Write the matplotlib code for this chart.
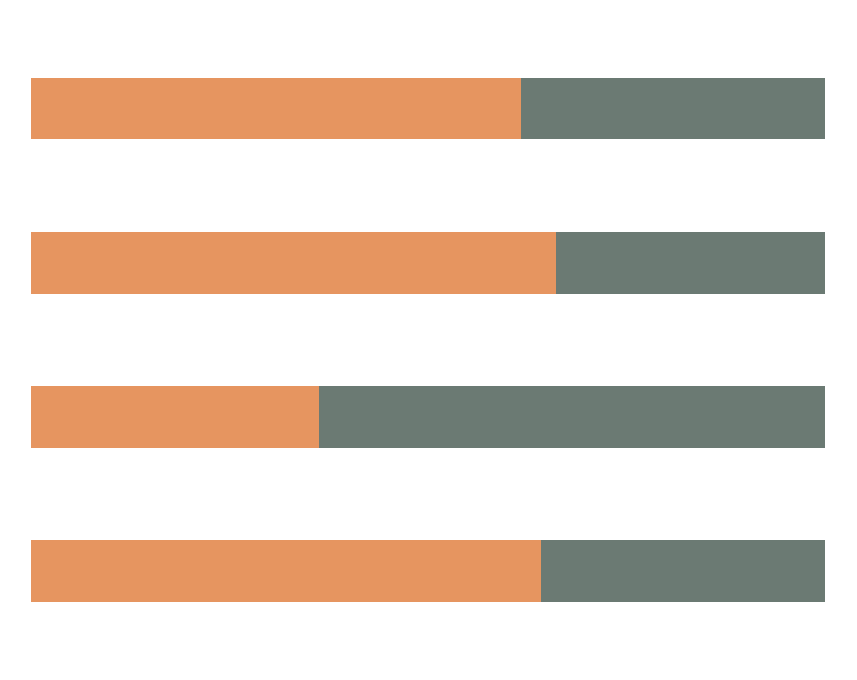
import numpy as np
import matplotlib
matplotlib.use('Agg')
import matplotlib.pyplot as plt

# shares per row, top to bottom (orange part, grey part)
categories = ['A', 'B', 'C', 'D']
first_share = [0.617, 0.661, 0.363, 0.642]
second_share = [0.383, 0.339, 0.637, 0.358]

orange = '#E69560'
grey = '#6B7A73'

fig = plt.figure(figsize=(8.57, 6.8), dpi=100)
ax = fig.add_axes([31 / 857, 0, (825 - 31) / 857, 1])

y = np.arange(len(categories))
ax.barh(y, first_share, height=0.40, color=orange, linewidth=0)
ax.barh(y, second_share, left=first_share, height=0.40, color=grey, linewidth=0)

ax.set_xlim(0, 1)
ax.set_ylim(3 + 109 / 154, -108.5 / 154)
ax.axis('off')

fig.savefig('out.png', dpi=100, facecolor='white')
